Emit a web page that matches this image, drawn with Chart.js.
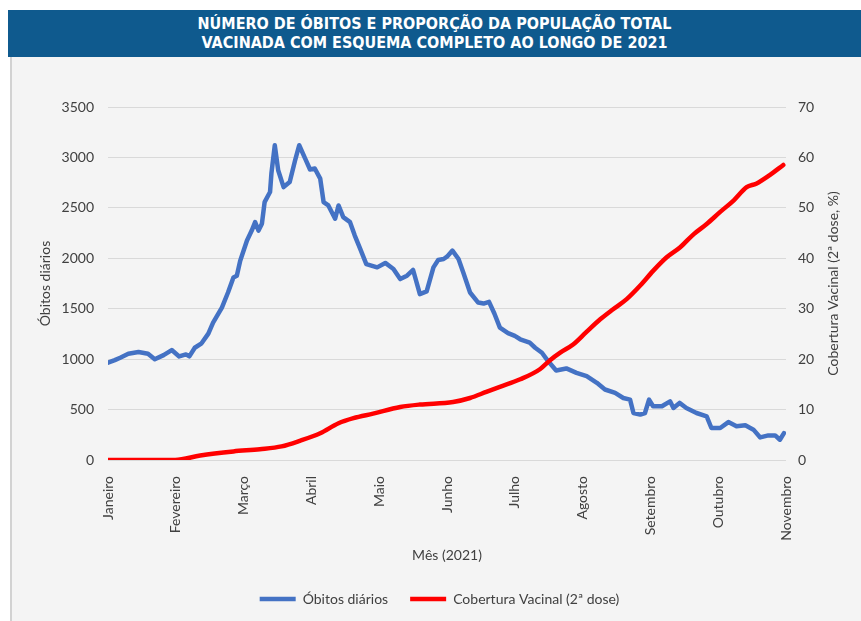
<!DOCTYPE html>
<html lang="pt">
<head>
<meta charset="utf-8">
<title>Óbitos e cobertura vacinal 2021</title>
<script src="https://cdn.jsdelivr.net/npm/chart.js@4.4.1/dist/chart.umd.min.js"></script>
<style>
  html, body { margin: 0; padding: 0; background: #ffffff; }
  body { width: 861px; height: 621px; position: relative; overflow: hidden; }
  #painel {
    position: absolute; left: 10px; top: 57px; width: 851px; height: 564px;
    background: #f4f4f4; border-left: 2px solid #d2d2d2;
  }
  #faixa {
    position: absolute; left: 8px; top: 10px; width: 853px; height: 47px;
    background: #0f5a8e; color: #ffffff; text-align: center;
    font: bold 16px "Liberation Sans Narrow", "DejaVu Sans Condensed", sans-serif;
    line-height: 19px; box-sizing: border-box; padding-top: 4px;
  }
  #grafico { position: absolute; left: 0; top: 0; }
</style>
</head>
<body>
<div id="painel"></div>
<div id="faixa">NÚMERO DE ÓBITOS E PROPORÇÃO DA POPULAÇÃO TOTAL<br>VACINADA COM ESQUEMA COMPLETO AO LONGO DE 2021</div>
<canvas id="grafico" width="861" height="621"></canvas>
<script>
// meses no eixo x (posição 0 = Janeiro ... 10 = Novembro)
const meses = ['Janeiro', 'Fevereiro', 'Março', 'Abril', 'Maio', 'Junho',
  'Julho', 'Agosto', 'Setembro', 'Outubro', 'Novembro'];

// óbitos diários (média móvel)
const obitosPos = [0.00, 0.10, 0.18, 0.30, 0.45, 0.59, 0.69, 0.82, 0.94, 1.05, 1.15, 1.20,
  1.28, 1.38, 1.48, 1.55, 1.68, 1.77, 1.85, 1.90, 1.95, 2.05, 2.12, 2.17, 2.22, 2.27,
  2.31, 2.39, 2.41, 2.46, 2.51, 2.59, 2.68, 2.76, 2.82, 2.91, 2.98, 3.05, 3.13, 3.18,
  3.25, 3.35, 3.40, 3.47, 3.57, 3.64, 3.72, 3.81, 3.97, 4.09, 4.21, 4.31, 4.41, 4.50,
  4.60, 4.70, 4.80, 4.87, 4.95, 5.00, 5.08, 5.17, 5.24, 5.34, 5.46, 5.54, 5.62, 5.70,
  5.78, 5.90, 6.00, 6.08, 6.22, 6.30, 6.40, 6.49, 6.61, 6.76, 6.91, 7.06, 7.21, 7.33,
  7.48, 7.60, 7.70, 7.75, 7.85, 7.92, 7.98, 8.04, 8.17, 8.29, 8.34, 8.43, 8.53, 8.68,
  8.83, 8.90, 9.03, 9.15, 9.27, 9.40, 9.52, 9.62, 9.74, 9.84, 9.91, 9.97];
const obitosValores = [964, 990, 1014, 1053, 1070, 1053, 998, 1040, 1090, 1027, 1047, 1027,
  1113, 1157, 1253, 1362, 1511, 1661, 1810, 1827, 1976, 2176, 2275, 2358, 2275, 2342,
  2557, 2657, 2840, 3121, 2873, 2706, 2756, 2972, 3121, 2985, 2880, 2890, 2790, 2557,
  2524, 2392, 2524, 2408, 2358, 2225, 2093, 1943, 1910, 1954, 1894, 1794, 1827, 1884,
  1645, 1671, 1910, 1983, 1993, 2016, 2076, 1993, 1860, 1661, 1561, 1551, 1568, 1450,
  1312, 1258, 1230, 1197, 1163, 1113, 1063, 981, 888, 908, 864, 831, 765, 699,
  665, 615, 599, 466, 450, 466, 599, 533, 533, 582, 516, 566, 516, 466,
  433, 317, 317, 376, 334, 344, 301, 224, 244, 244, 201, 267];

// cobertura vacinal, 2ª dose (%)
const coberturaPos = [0.00, 0.99, 1.36, 1.85, 2.24, 2.56, 2.83, 3.13, 3.40, 3.62, 3.91,
  4.31, 4.60, 5.09, 5.34, 5.58, 5.78, 6.08, 6.37, 6.52, 6.67, 6.86, 7.05, 7.26, 7.45,
  7.65, 7.85, 8.04, 8.24, 8.44, 8.64, 8.83, 9.03, 9.23, 9.42, 9.56, 9.76, 9.96];
const coberturaValores = [0, 0, 0.9, 1.7, 2.15, 2.7, 3.8, 5.3, 7.3, 8.3, 9.2,
  10.5, 11.0, 11.5, 12.3, 13.5, 14.5, 16.0, 18.0, 19.8, 21.3, 22.9, 25.3, 27.9, 29.9,
  31.9, 34.6, 37.5, 40.2, 42.2, 44.8, 46.8, 49.2, 51.5, 54.1, 54.8, 56.5, 58.5];

const fonte = 'Lato, "Open Sans", sans-serif';
const corTexto = '#404040';

// título do eixo direito, lido de baixo para cima
const tituloDireito = {
  id: 'tituloDireito',
  afterDraw(chart) {
    const {ctx, chartArea} = chart;
    ctx.save();
    ctx.translate(833, (chartArea.top + chartArea.bottom) / 2);
    ctx.rotate(-Math.PI / 2);
    ctx.font = '14px ' + fonte;
    ctx.fillStyle = corTexto;
    ctx.textAlign = 'center';
    ctx.textBaseline = 'middle';
    ctx.fillText('Cobertura Vacinal (2ª dose, %)', 0, 0);
    ctx.restore();
  }
};

const ctx = document.getElementById('grafico').getContext('2d');

new Chart(ctx, {
  type: 'line',
  data: {
    datasets: [{
      label: 'Óbitos diários',
      data: obitosPos.map((x, i) => ({x: x, y: obitosValores[i]})),
      borderColor: '#4472c4',
      backgroundColor: '#4472c4',
      borderWidth: 4.5,
      borderCapStyle: 'round',
      borderJoinStyle: 'round',
      pointRadius: 0,
      yAxisID: 'y',
      order: 1
    }, {
      label: 'Cobertura Vacinal (2ª dose)',
      data: coberturaPos.map((x, i) => ({x: x, y: coberturaValores[i]})),
      borderColor: '#ff0000',
      backgroundColor: '#ff0000',
      borderWidth: 4.5,
      borderCapStyle: 'round',
      borderJoinStyle: 'round',
      pointRadius: 0,
      cubicInterpolationMode: 'monotone',
      yAxisID: 'y1',
      order: 0
    }]
  },
  options: {
    responsive: false,
    animation: false,
    layout: { padding: { left: 33, right: 15, top: 107, bottom: 5 } },
    scales: {
      x: {
        type: 'linear',
        min: 0,
        max: 10,
        afterFit: (s) => { s.height = 110; },
        grid: { display: false },
        border: { display: false },
        ticks: {
          stepSize: 1,
          autoSkip: false,
          maxRotation: 90,
          minRotation: 90,
          padding: 8,
          color: corTexto,
          font: { family: fonte, size: 14 },
          callback: (v) => meses[v]
        },
        title: {
          display: true,
          text: 'Mês (2021)',
          color: corTexto,
          font: { family: fonte, size: 14 },
          padding: { top: 0, bottom: 6 }
        }
      },
      y: {
        position: 'left',
        min: 0,
        max: 3500,
        afterFit: (s) => { s.width = 75; },
        grid: { color: '#d9d9d9', drawTicks: false },
        border: { display: false },
        ticks: {
          stepSize: 500,
          padding: 14,
          color: corTexto,
          font: { family: fonte, size: 14 },
          callback: (v) => String(v)
        },
        title: {
          display: true,
          text: 'Óbitos diários',
          color: corTexto,
          font: { family: fonte, size: 14 },
          padding: { top: 4, bottom: 0 }
        }
      },
      y1: {
        position: 'right',
        min: 0,
        max: 70,
        afterFit: (s) => { s.width = 60; },
        grid: { display: false, drawTicks: false },
        border: { display: false },
        ticks: {
          stepSize: 10,
          padding: 12,
          color: corTexto,
          font: { family: fonte, size: 14 },
          callback: (v) => String(v)
        }
      }
    },
    plugins: {
      legend: {
        position: 'bottom',
        labels: {
          usePointStyle: true,
          pointStyle: 'line',
          pointStyleWidth: 36,
          padding: 22,
          color: corTexto,
          font: { family: fonte, size: 14 },
          sort: (a, b) => a.datasetIndex - b.datasetIndex
        }
      },
      tooltip: { enabled: false }
    }
  },
  plugins: [tituloDireito]
});
</script>
</body>
</html>
